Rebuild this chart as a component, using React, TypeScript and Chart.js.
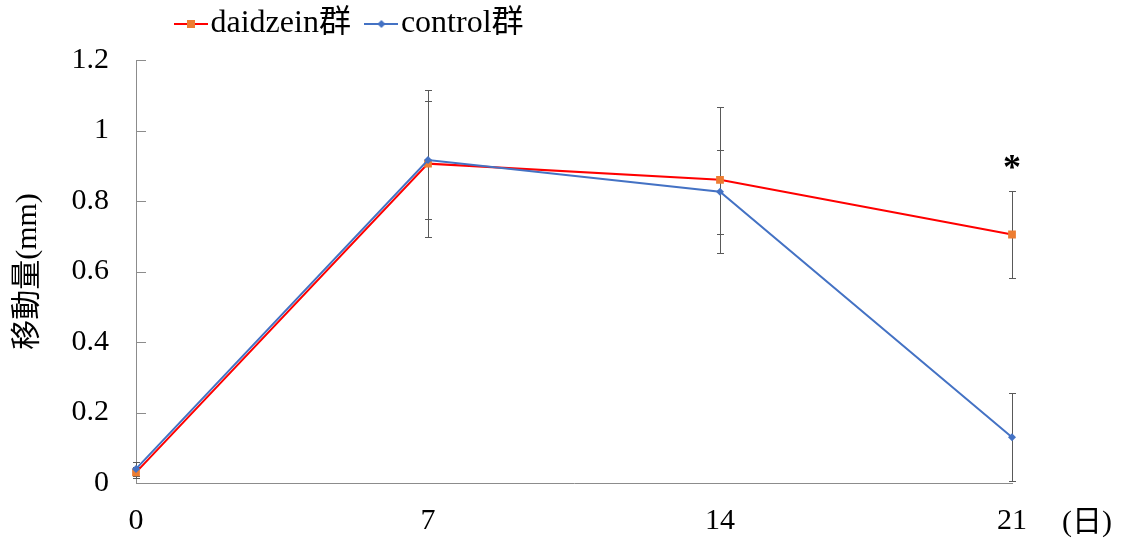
import React, { useEffect, useRef } from 'react';
import { Chart, registerables } from 'chart.js';

Chart.register(...registerables);

// ---- data ----
const days = ['0', '7', '14', '21'];
const seriesNames = ['daidzein群', 'control群'];
const daidzeinMean = [0.03, 0.906, 0.86, 0.705];
const daidzeinErr = [0.015, 0.208, 0.207, 0.123];
const controlMean = [0.04, 0.916, 0.826, 0.13];
const controlErr = [0.02, 0.168, 0.12, 0.124];
const significance = ['', '', '', '*'];
const yTitle = '移動量(mm)';
const xUnit = '(日)';
const yMin = 0;
const yMax = 1.2;
const yStep = 0.2;

const FONT = "'Liberation Serif', 'Noto Sans CJK JP', serif";
const RED = '#FF0000';
const ORANGE = '#ED7D31';
const BLUE = '#4472C4';
const AXIS = '#8C8C8C';
const ERR = '#595959';

function legendImage(lineColor: string, markerColor: string, marker: 'square' | 'diamond') {
  const c = document.createElement('canvas');
  c.width = 34;
  c.height = 12;
  const ctx = c.getContext('2d')!;
  ctx.strokeStyle = lineColor;
  ctx.lineWidth = 2;
  ctx.beginPath();
  ctx.moveTo(0, 6);
  ctx.lineTo(34, 6);
  ctx.stroke();
  ctx.fillStyle = markerColor;
  if (marker === 'square') {
    ctx.fillRect(17 - 4, 6 - 4, 8, 8);
  } else {
    ctx.beginPath();
    ctx.moveTo(17, 6 - 4);
    ctx.lineTo(17 + 4, 6);
    ctx.lineTo(17, 6 + 4);
    ctx.lineTo(17 - 4, 6);
    ctx.closePath();
    ctx.fill();
  }
  return c;
}

const errorsByDataset = [daidzeinErr, controlErr];

const errorBarPlugin = {
  id: 'errorBars',
  beforeDatasetsDraw(chart: any) {
    const { ctx, scales } = chart;
    const x = scales.x;
    const y = scales.y;
    ctx.save();
    ctx.strokeStyle = ERR;
    ctx.lineWidth = 1;
    chart.data.datasets.forEach((ds: any, di: number) => {
      const errs = errorsByDataset[di];
      ds.data.forEach((v: number, i: number) => {
        const px = Math.round(x.getPixelForValue(i)) + 0.5;
        const top = Math.round(y.getPixelForValue(v + errs[i])) + 0.5;
        const bot = Math.round(y.getPixelForValue(Math.max(yMin, v - errs[i]))) + 0.5;
        ctx.beginPath();
        ctx.moveTo(px, top);
        ctx.lineTo(px, bot);
        ctx.moveTo(px - 3.5, top);
        ctx.lineTo(px + 3.5, top);
        ctx.moveTo(px - 3.5, bot);
        ctx.lineTo(px + 3.5, bot);
        ctx.stroke();
      });
    });
    ctx.restore();
  },
};

const decorPlugin = {
  id: 'decor',
  afterLayout(chart: any) {
    const lg = chart.legend;
    if (lg) {
      lg.left = 160.5;
      lg.top = -19;
    }
  },
  beforeDatasetsDraw(chart: any) {
    const { ctx, scales } = chart;
    const y = scales.y;
    const left = chart.chartArea.left;
    ctx.save();
    ctx.strokeStyle = AXIS;
    ctx.lineWidth = 1;
    y.ticks.forEach((_t: any, i: number) => {
      const py = Math.round(y.getPixelForTick(i)) + 0.5;
      ctx.beginPath();
      ctx.moveTo(left, py);
      ctx.lineTo(left + 10, py);
      ctx.stroke();
    });
    ctx.restore();
  },
  afterDraw(chart: any) {
    const { ctx, scales } = chart;
    const x = scales.x;
    const y = scales.y;
    ctx.save();
    ctx.fillStyle = '#000';
    ctx.textAlign = 'center';
    ctx.textBaseline = 'alphabetic';
    ctx.font = `bold 36px ${FONT}`;
    significance.forEach((s, i) => {
      if (!s) return;
      const top = Math.max(daidzeinMean[i] + daidzeinErr[i], controlMean[i] + controlErr[i]);
      ctx.fillText(s, x.getPixelForValue(i), y.getPixelForValue(top) - 12);
    });
    ctx.font = `30px ${FONT}`;
    ctx.textAlign = 'left';
    ctx.fillText(xUnit, 1062, 531);
    ctx.restore();
  },
};

export default function App() {
  const ref = useRef<HTMLCanvasElement | null>(null);

  useEffect(() => {
    if (!ref.current) return;
    const imgs = [legendImage(RED, ORANGE, 'square'), legendImage(BLUE, BLUE, 'diamond')];
    const chart = new Chart(ref.current, {
      type: 'line',
      data: {
        labels: days,
        datasets: [
          {
            label: seriesNames[0],
            data: daidzeinMean,
            borderColor: RED,
            borderWidth: 2,
            pointStyle: 'rect',
            pointRadius: 5.5,
            pointBackgroundColor: ORANGE,
            pointBorderColor: ORANGE,
            pointBorderWidth: 0,
            order: 1,
          },
          {
            label: seriesNames[1],
            data: controlMean,
            borderColor: BLUE,
            borderWidth: 2,
            pointStyle: 'rectRot',
            pointRadius: 4,
            pointBackgroundColor: BLUE,
            pointBorderColor: BLUE,
            pointBorderWidth: 0,
            order: 0,
          },
        ],
      },
      options: {
        animation: false,
        responsive: false,
        events: [],
        layout: { padding: { left: 0, right: 110, top: -9, bottom: 0 } },
        plugins: {
          tooltip: { enabled: false },
          legend: {
            display: true,
            position: 'top',
            align: 'start',
            labels: {
              usePointStyle: true,
              pointStyleWidth: 7,
              padding: 27,
              color: '#000',
              font: { family: FONT, size: 32 },
              generateLabels: (chart: any) =>
                chart.data.datasets.map((ds: any, i: number) => ({
                  text: ds.label,
                  pointStyle: imgs[i],
                  fillStyle: 'transparent',
                  strokeStyle: 'transparent',
                  lineWidth: 0,
                  fontColor: '#000',
                  hidden: false,
                  datasetIndex: i,
                })),
            },
          },
        },
        scales: {
          x: {
            type: 'category',
            offset: false,
            grid: { display: false, drawTicks: false },
            border: { display: true, color: AXIS, width: 1 },
            ticks: {
              color: '#000',
              font: { family: FONT, size: 30 },
              padding: 20,
              maxRotation: 0,
              autoSkip: false,
            },
            afterFit: (s: any) => {
              s.height = 58;
            },
          },
          y: {
            type: 'linear',
            min: yMin,
            max: yMax,
            grid: { display: false, drawTicks: false },
            border: { display: true, color: AXIS, width: 1 },
            ticks: {
              stepSize: yStep,
              color: '#000',
              font: { family: FONT, size: 30 },
              padding: 27,
              callback: (v: any) => String(Math.round(Number(v) * 10) / 10),
            },
            title: {
              display: true,
              text: yTitle,
              color: '#000',
              font: { family: FONT, size: 30 },
              padding: { top: 10, bottom: 0 },
            },
            afterFit: (s: any) => {
              s.width = 136;
            },
          },
        },
      },
      plugins: [errorBarPlugin, decorPlugin],
    });
    return () => chart.destroy();
  }, []);

  return (
    <div style={{ position: 'fixed', left: 0, top: 0, width: 1122, height: 541 }}>
      <canvas ref={ref} width={1122} height={541} style={{ width: 1122, height: 541 }} />
    </div>
  );
}
